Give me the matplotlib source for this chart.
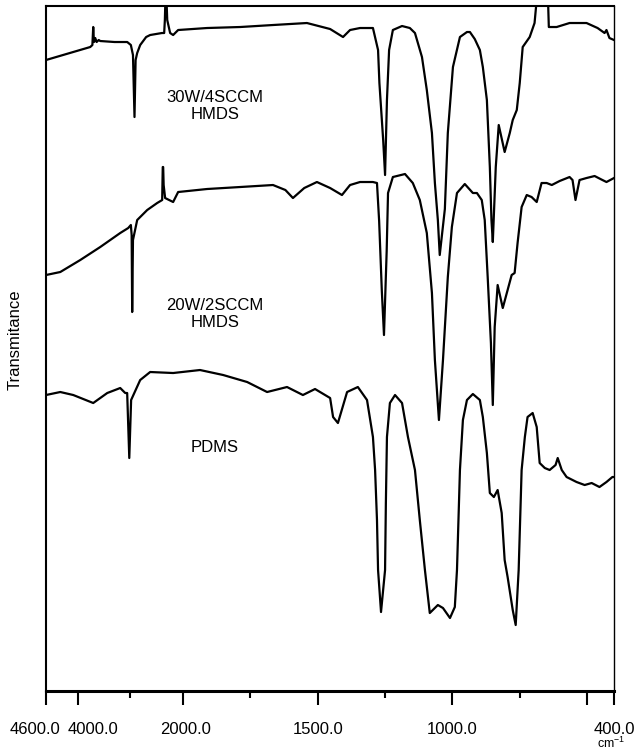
import numpy as np
import matplotlib
matplotlib.use("Agg")
import matplotlib.pyplot as plt
from matplotlib.transforms import ScaledTranslation

plt.rcParams['font.family'] = ['Liberation Sans', 'DejaVu Sans']

# wavenumber (cm-1) and transmittance (arbitrary, offset)
wn_30w = [4600, 3761, 3720, 3704, 3690, 3666, 3640, 3600, 3571, 3300, 3059, 2990, 2950, 2921,
          2900, 2870, 2813, 2700, 2624, 2400, 2358, 2345, 2330, 2320, 2300, 2245, 2188, 2093,
          1911, 1788, 1666, 1540, 1454, 1406, 1380, 1343, 1295, 1276, 1271, 1257, 1250, 1243,
          1235, 1221, 1187, 1158, 1139, 1113, 1095, 1076, 1065, 1054, 1047, 1028, 1017, 998,
          972, 946, 935, 917, 898, 887, 872, 861, 855, 850, 839, 828, 806, 787, 776, 761, 750,
          739, 713, 695, 684, 646, 642, 613, 565, 502, 461, 435, 428, 417, 400]
t_30w = [631, 644, 646, 664, 649, 653, 649, 651, 650, 649, 649, 646, 636, 574,
         631, 638, 646, 654, 656, 658, 658, 671, 700, 700, 671, 658, 656, 661,
         663, 664, 666, 668, 662, 654, 661, 663, 663, 641, 608, 551, 516, 591,
         641, 661, 665, 663, 658, 634, 601, 558, 508, 471, 436, 482, 558, 624,
         654, 659, 659, 652, 641, 624, 591, 524, 471, 449, 524, 566, 539, 558, 571, 581, 608,
         644, 654, 668, 700, 700, 664, 664, 668, 668, 663, 658, 661, 653, 651]

wn_20w = [4600, 4329, 3950, 3571, 3192, 3040, 2990, 2975, 2965, 2950, 2870, 2680, 2491, 2396,
          2385, 2377, 2368, 2340, 2188, 2093, 1911, 1788, 1666, 1620, 1592, 1550, 1503, 1454,
          1410, 1380, 1343, 1295, 1280, 1272, 1262, 1254, 1244, 1239, 1221, 1176, 1147, 1121,
          1095, 1076, 1065, 1050, 1035, 1017, 1002, 983, 954, 924, 909, 891, 880, 869, 857,
          850, 843, 832, 813, 795, 780, 769, 758, 743, 724, 706, 687, 669, 650, 631, 602, 565,
          554, 543, 528, 502, 472, 443, 428, 400]
t_20w = [416, 419, 431, 444, 458, 463, 466, 456, 379, 451, 471, 481, 488, 491,
         524, 524, 506, 493, 489, 499, 502, 504, 506, 501, 493, 503, 509, 503,
         496, 506, 509, 509, 508, 470, 400, 356, 440, 498, 514, 517, 508, 491,
         458, 398, 331, 271, 331, 414, 464, 498, 507, 498, 498, 491, 471, 414, 348,
         286, 364, 406, 383, 401, 416, 418, 448, 484, 496, 494, 489, 508, 508, 506, 510, 514,
         511, 491, 511, 513, 515, 511, 509, 513]

wn_pdms = [4600, 4329, 4083, 3704, 3438, 3192, 3097, 3060, 3020, 2985, 2813, 2624, 2188, 1937,
           1851, 1762, 1688, 1614, 1555, 1510, 1454, 1443, 1425, 1391, 1351, 1317, 1295, 1287,
           1280, 1276, 1265, 1250, 1247, 1243, 1232, 1213, 1187, 1165, 1139, 1121, 1102, 1084,
           1054, 1035, 1009, 991, 983, 972, 961, 946, 924, 898, 887, 872, 861, 846, 832, 817,
           806, 795, 776, 765, 754, 743, 731, 721, 702, 687, 676, 657, 639, 617, 609, 594, 576,
           539, 509, 483, 454, 428, 406, 400]
t_pdms = [296, 299, 296, 288, 298, 303, 298, 298, 233, 291, 311, 319, 318, 321,
          316, 309, 299, 304, 296, 302, 293, 274, 268, 299, 304, 291, 254, 221,
          171, 121, 79, 121, 188, 254, 288, 296, 288, 254, 221, 171, 121, 78,
          86, 83, 73, 84, 121, 221, 271, 291, 297, 291, 274, 238, 198, 194, 201, 178,
          131, 114, 81, 66, 121, 221, 254, 274, 278, 264, 228, 223, 221, 226, 233, 221, 214,
          209, 206, 208, 204, 209, 214, 214]

major_ticks = [4600, 4000, 2000, 1500, 1000, 500, 400]
major_labels = ['4600.0', '4000.0', '2000.0', '1500.0', '1000.0', '', '400.0']
minor_ticks = [3000, 1750, 1250, 750]

# the x axis is compressed above 2000 cm-1
brk = [400, 2000, 4600]
pos = [0, 1600, 2108.8]


def fwd(x):
    return np.interp(x, brk, pos)


def inv(u):
    return np.interp(u, pos, brk)


fig = plt.figure(figsize=(6.38, 7.52), dpi=100)
ax = fig.add_axes([0.0721, 0.0811, 0.8903, 0.9109])
ax.set_xscale('function', functions=(fwd, inv))

for wn, t in [(wn_30w, t_30w), (wn_20w, t_20w), (wn_pdms, t_pdms)]:
    ax.plot(wn, t, color='black', lw=1.6)

ax.set_xlim(4600, 400)
ax.set_ylim(0, 685)
ax.set_yticks([])

ax.set_xticks(major_ticks)
ax.set_xticklabels(major_labels, fontsize=12)
ax.set_xticks(minor_ticks, minor=True)
ax.tick_params(axis='x', which='major', length=10, width=1.5, pad=12, direction='out')
ax.tick_params(axis='x', which='minor', length=5, width=1.5, direction='out')

# shift the two crowded labels apart
offsets = [-8, 11, 2, 0, 0, 0, 0]
for lbl, dx in zip(ax.get_xticklabels(), offsets):
    lbl.set_transform(lbl.get_transform() + ScaledTranslation(dx / 72, 0, fig.dpi_scale_trans))

for side, w in [('left', 1.5), ('bottom', 2.2), ('top', 1.5), ('right', 1.0)]:
    ax.spines[side].set_linewidth(w)

ax.text(1881, 585, '30W/4SCCM\nHMDS', ha='center', va='center', fontsize=12, linespacing=1.1)
ax.text(1881, 377, '20W/2SCCM\nHMDS', ha='center', va='center', fontsize=12, linespacing=1.1)
ax.text(1881, 244, 'PDMS', ha='center', va='center', fontsize=12)

fig.text(15 / 638, 1 - 340 / 752, 'Transmitance', rotation=90, ha='center', va='center', fontsize=12)
fig.text(625 / 638, 1 / 752, 'cm$^{\\mathregular{-1}}$', ha='right', va='bottom', fontsize=9)

fig.savefig('out.png', dpi=100)
